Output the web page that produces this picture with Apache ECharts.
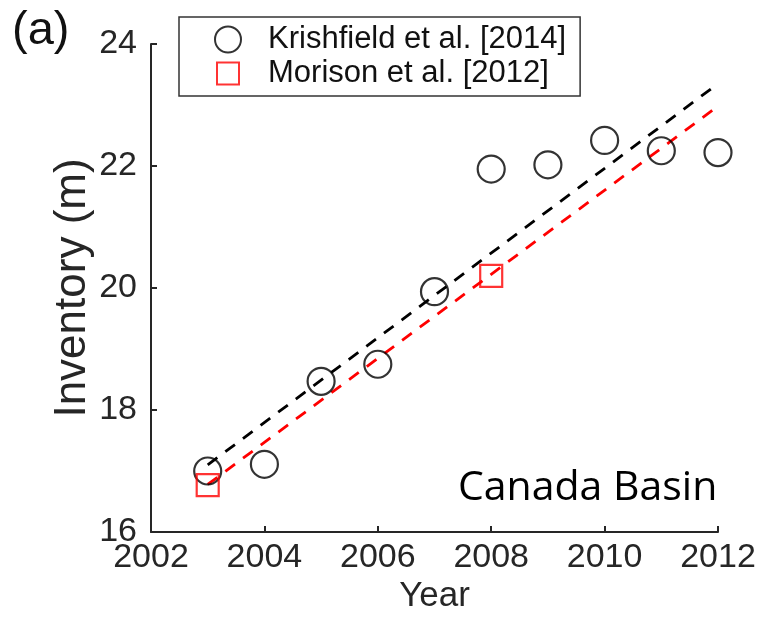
<!DOCTYPE html>
<html>
<head>
<meta charset="utf-8">
<script src="https://cdn.jsdelivr.net/npm/echarts@6/dist/echarts.min.js"></script>
<style>
  html, body { margin: 0; padding: 0; background: #fff; }
  #chart { width: 762px; height: 621px; }
</style>
</head>
<body>
<div id="chart"></div>
<script>
// Canada Basin freshwater inventory by year
const krishYears = [2003, 2004, 2005, 2006, 2007, 2008, 2009, 2010, 2011, 2012];
const krishValues = [17.0, 17.11, 18.47, 18.75, 19.94, 21.95, 22.02, 22.42, 22.25, 22.22];
const morisonYears = [2003, 2008];
const morisonValues = [16.77, 20.2];

// linear trend lines (end points)
const krishTrendYears = [2003, 2012];
const krishTrendValues = [17.1, 23.35];
const morisonTrendYears = [2003, 2012];
const morisonTrendValues = [16.78, 22.98];

const xTicks = [2002, 2004, 2006, 2008, 2010, 2012];
const yTicks = [16, 18, 20, 22, 24];

const pairs = (xs, ys) => xs.map((x, i) => [x, ys[i]]);

const FONT = '"Liberation Sans", Arial, Helvetica, sans-serif';
const AXIS_COLOR = '#262626';

// open square icon, padded so it sits smaller than the circle icon
const SQUARE_ICON = 'path://M0,0M2,2H24V24H2ZM26,26';

const chart = echarts.init(document.getElementById('chart'), null, { renderer: 'canvas' });

chart.setOption({
  backgroundColor: '#ffffff',
  animation: false,
  grid: { left: 151, right: 44, top: 44, bottom: 89, containLabel: false },
  xAxis: {
    type: 'value',
    min: xTicks[0],
    max: xTicks[xTicks.length - 1],
    interval: 2,
    name: 'Year',
    nameLocation: 'middle',
    nameGap: 47,
    nameMoveOverlap: false,
    nameTextStyle: { fontFamily: FONT, fontSize: 35, color: AXIS_COLOR },
    axisLine: { show: true, lineStyle: { color: AXIS_COLOR, width: 2 } },
    axisTick: { show: true, inside: true, length: 6, lineStyle: { color: AXIS_COLOR, width: 2 } },
    axisLabel: { fontFamily: FONT, fontSize: 34, color: AXIS_COLOR, margin: 9,
                 formatter: v => String(v) },
    splitLine: { show: false }
  },
  yAxis: {
    type: 'value',
    min: yTicks[0],
    max: yTicks[yTicks.length - 1],
    interval: 2,
    name: 'Inventory (m)',
    nameLocation: 'middle',
    nameGap: 56,
    nameMoveOverlap: false,
    nameRotate: 90,
    nameTextStyle: { fontFamily: FONT, fontSize: 44, color: AXIS_COLOR },
    axisLine: { show: true, lineStyle: { color: AXIS_COLOR, width: 2 } },
    axisTick: { show: true, inside: true, length: 6, lineStyle: { color: AXIS_COLOR, width: 2 } },
    axisLabel: { fontFamily: FONT, fontSize: 34, color: AXIS_COLOR, margin: 14 },
    splitLine: { show: false }
  },
  legend: {
    left: 179,
    top: 17,
    orient: 'vertical',
    backgroundColor: '#ffffff',
    borderColor: '#333333',
    borderWidth: 1.5,
    borderRadius: 0,
    padding: [7, 14, 7, 35],
    itemGap: 3,
    itemWidth: 26,
    itemHeight: 26,
    textStyle: { fontFamily: FONT, fontSize: 31, color: '#111111', lineHeight: 30,
                 padding: [0, 0, 0, 22] },
    data: [
      { name: 'Krishfield et al. [2014]', icon: 'circle',
        itemStyle: { color: 'rgba(0,0,0,0)', borderColor: '#000000', borderWidth: 2 } },
      { name: 'Morison et al. [2012]', icon: SQUARE_ICON,
        itemStyle: { color: 'rgba(0,0,0,0)', borderColor: '#ff0000', borderWidth: 2 } }
    ]
  },
  graphic: [
    {
      type: 'text',
      left: 12,
      top: 8,
      style: { text: '(a)', font: '47px ' + FONT, fill: '#111111' }
    },
    {
      type: 'text',
      x: 458,
      y: 488,
      style: {
        text: 'Canada Basin',
        font: '41px "Open Sans", "Noto Sans", sans-serif',
        fill: '#000000',
        textVerticalAlign: 'middle'
      }
    }
  ],
  series: [
    {
      name: 'Krishfield trend',
      type: 'line',
      data: pairs(krishTrendYears, krishTrendValues),
      symbol: 'none',
      lineStyle: { color: '#000000', width: 2.8, type: [12, 10] },
      z: 2,
      silent: true
    },
    {
      name: 'Morison trend',
      type: 'line',
      data: pairs(morisonTrendYears, morisonTrendValues),
      symbol: 'none',
      lineStyle: { color: '#ff0000', width: 2.8, type: [12, 10] },
      z: 2,
      silent: true
    },
    {
      name: 'Krishfield et al. [2014]',
      type: 'scatter',
      data: pairs(krishYears, krishValues),
      symbol: 'circle',
      symbolSize: 27,
      itemStyle: { color: 'rgba(0,0,0,0)', borderColor: '#000000', borderWidth: 2.2 },
      z: 3
    },
    {
      name: 'Morison et al. [2012]',
      type: 'scatter',
      data: pairs(morisonYears, morisonValues),
      symbol: 'rect',
      symbolSize: 22,
      itemStyle: { color: 'rgba(0,0,0,0)', borderColor: '#ff0000', borderWidth: 2.2 },
      z: 3
    }
  ]
});
</script>
</body>
</html>
